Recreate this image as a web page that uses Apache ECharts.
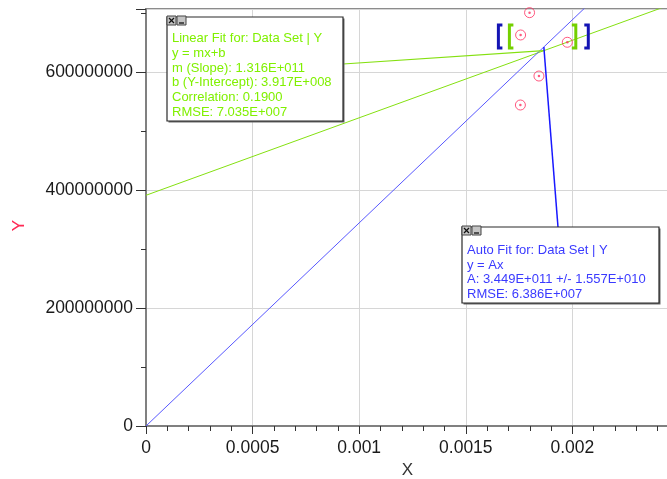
<!DOCTYPE html>
<html>
<head>
<meta charset="utf-8">
<script src="https://cdn.jsdelivr.net/npm/echarts@6/dist/echarts.min.js"></script>
<style>
  html, body { margin: 0; padding: 0; background: #ffffff; }
  #chart { width: 667px; height: 479px; }
</style>
</head>
<body>
<div id="chart"></div>
<script>
// Measured data set (X, Y)
const xValues = [0.001799, 0.001757, 0.001976, 0.001843, 0.001756];
const yValues = [701.8e6, 663.9e6, 651.5e6, 594.2e6, 545.0e6];

// Axis tick labels
const xTickLabels = ['0', '0.0005', '0.001', '0.0015', '0.002'];
const yTickLabels = ['0', '200000000', '400000000', '600000000'];
const xStep = 0.0005;
const yStep = 200000000;

// Fit results shown in the annotation boxes
const linearSlope = 1.316e11;
const linearIntercept = 3.917e8;
const linearCorrelation = '0.1900';
const linearRmse = '7.035E+007';
const autoA = 3.449e11;
const autoAErr = '1.557E+010';
const autoRmse = '6.386E+007';

const xMax = 0.002453;
const yMax = 708e6;

const FONT = '"Liberation Sans", Arial, Helvetica, sans-serif';
const GREEN = '#80f000';
const GREEN_LINE = '#84e010';
const BLUE_TEXT = '#3a3aff';
const BLUE_LINE = '#5858ff';
const BLUE_CALLOUT = '#1818ff';
const RED = '#ff3060';

const points = xValues.map((x, i) => [x, yValues[i]]);
const xLo = Math.min(...xValues);
const xHi = Math.max(...xValues);
const xMid = (xLo + xHi) / 2;

const fmt = (v) => v.toExponential(3).toUpperCase().replace(/E\+(\d+)$/, (m, d) => 'E+' + d.padStart(3, '0'));

const linearLines = [
  'Linear Fit for: Data Set | Y',
  'y = mx+b',
  'm (Slope): ' + fmt(linearSlope),
  'b (Y-Intercept): ' + fmt(linearIntercept),
  'Correlation: ' + linearCorrelation,
  'RMSE: ' + linearRmse
];
const autoLines = [
  'Auto Fit for: Data Set | Y',
  'y = Ax',
  'A: ' + fmt(autoA) + ' +/- ' + autoAErr,
  'RMSE: ' + autoRmse
];

// Box geometry (pixels)
const linBox = { x: 167, y: 17, w: 176, h: 104 };
const autoBox = { x: 462, y: 227, w: 197, h: 76 };

function fitBox(b, lines, color, textTop) {
  const Z = 100;
  const children = [
    { type: 'rect', z: Z, shape: { x: 1.5, y: 1.5, width: b.w, height: b.h }, style: { fill: '#6a6a6a' } },
    { type: 'rect', z: Z + 1, shape: { x: 0, y: 0, width: b.w, height: b.h }, style: { fill: '#ffffff', stroke: '#2a2a2a', lineWidth: 1.2 } },
    { type: 'text', z: Z + 2, x: 5, y: textTop, style: { text: lines.join('\n'), fill: color, font: '13px ' + FONT, lineHeight: 14.7, verticalAlign: 'top' } },
    // close button
    { type: 'rect', z: Z + 2, shape: { x: 0, y: -1, width: 9, height: 9 }, style: { fill: '#c4c4c4', stroke: '#444', lineWidth: 1 } },
    { type: 'line', z: Z + 3, shape: { x1: 2, y1: 1, x2: 7, y2: 6 }, style: { stroke: '#111', lineWidth: 1.3 } },
    { type: 'line', z: Z + 3, shape: { x1: 7, y1: 1, x2: 2, y2: 6 }, style: { stroke: '#111', lineWidth: 1.3 } },
    // minimize button
    { type: 'rect', z: Z + 2, shape: { x: 10, y: -1, width: 9, height: 9 }, style: { fill: '#c4c4c4', stroke: '#444', lineWidth: 1 } },
    { type: 'line', z: Z + 3, shape: { x1: 12, y1: 6, x2: 17, y2: 6 }, style: { stroke: '#111', lineWidth: 1.3 } }
  ];
  return { type: 'group', x: b.x, y: b.y, z: Z, children };
}

function calloutSeries(yVal, anchor, color, width) {
  return {
    type: 'custom',
    coordinateSystem: 'cartesian2d',
    data: [[xMid, yVal]],
    clip: false,
    silent: true,
    z: 5,
    renderItem: (params, api) => {
      const p = api.coord([api.value(0), api.value(1)]);
      return {
        type: 'line',
        shape: { x1: anchor[0], y1: anchor[1], x2: p[0], y2: p[1] },
        style: { stroke: color, lineWidth: width }
      };
    }
  };
}

// Selection brackets around the fitted range
const bracketSeries = {
  type: 'custom',
  coordinateSystem: 'cartesian2d',
  data: [[xLo, xHi]],
  clip: false,
  silent: true,
  z: 6,
  renderItem: (params, api) => {
    const a = api.coord([api.value(0), 0])[0];
    const c = api.coord([api.value(1), 0])[0];
    const top = 25, bot = 48, arm = 4;
    const open = (x, color) => ({ type: 'polyline', shape: { points: [[x + arm, top], [x, top], [x, bot], [x + arm, bot]] }, style: { stroke: color, lineWidth: 3, fill: null } });
    const close = (x, color) => ({ type: 'polyline', shape: { points: [[x - arm, top], [x, top], [x, bot], [x - arm, bot]] }, style: { stroke: color, lineWidth: 3, fill: null } });
    return {
      type: 'group',
      children: [
        open(a - 22, '#1414b4'),
        open(a - 11, '#74d000'),
        close(c + 8.5, '#74d000'),
        close(c + 21, '#1414b4')
      ]
    };
  }
};

const chart = echarts.init(document.getElementById('chart'), null, { renderer: 'canvas' });

chart.setOption({
  animation: false,
  backgroundColor: '#ffffff',
  grid: {
    left: 146, top: 9, right: -2, bottom: 53,
    containLabel: false,
    outerBoundsMode: 'none',
    show: true,
    borderColor: '#8c8c8c',
    borderWidth: 2,
    backgroundColor: 'transparent'
  },
  xAxis: {
    type: 'value',
    min: 0, max: xMax, interval: xStep,
    name: 'X', nameLocation: 'middle', nameGap: 32,
    nameTextStyle: { color: '#333', fontFamily: FONT, fontSize: 17 },
    axisLine: { show: true, onZero: false, lineStyle: { color: '#808080', width: 2 } },
    axisTick: { show: true, length: 8, lineStyle: { color: '#333', width: 1 } },
    minorTick: { show: true, splitNumber: 5, length: 5, lineStyle: { color: '#333', width: 1 } },
    splitLine: { show: true, lineStyle: { color: '#d6d6d6', width: 1 } },
    axisLabel: {
      margin: 13, color: '#1a1a1a', fontFamily: FONT, fontSize: 17.5,
      showMaxLabel: false,
      formatter: (v) => { const i = Math.round(v / xStep); return xTickLabels[i] !== undefined ? xTickLabels[i] : ''; }
    }
  },
  yAxis: {
    type: 'value',
    min: 0, max: yMax, interval: yStep,
    name: 'Y', nameLocation: 'middle', nameGap: 118,
    nameTextStyle: { color: '#ff2a55', fontFamily: FONT, fontSize: 17, padding: [0, 16, 0, 0] },
    axisLine: { show: true, onZero: false, lineStyle: { color: '#808080', width: 2 } },
    axisTick: { show: true, length: 10, lineStyle: { color: '#333', width: 1 } },
    minorTick: { show: true, splitNumber: 2, length: 5, lineStyle: { color: '#333', width: 1 } },
    splitLine: { show: true, lineStyle: { color: '#d6d6d6', width: 1 } },
    axisLabel: {
      margin: 13, color: '#1a1a1a', fontFamily: FONT, fontSize: 17.5,
      showMaxLabel: false,
      formatter: (v) => { const i = Math.round(v / yStep); return yTickLabels[i] !== undefined ? yTickLabels[i] : ''; }
    }
  },
  graphic: [
    fitBox(linBox, linearLines, GREEN, 14.4),
    fitBox(autoBox, autoLines, BLUE_TEXT, 16)
  ],
  series: [
    {
      name: 'Linear Fit',
      type: 'line',
      data: [[0, linearIntercept], [xMax, linearSlope * xMax + linearIntercept]],
      showSymbol: false, symbol: 'none', clip: true, silent: true,
      lineStyle: { color: GREEN_LINE, width: 1 },
      z: 3
    },
    {
      name: 'Auto Fit',
      type: 'line',
      data: [[0, 0], [xMax, autoA * xMax]],
      showSymbol: false, symbol: 'none', clip: true, silent: true,
      lineStyle: { color: BLUE_LINE, width: 1 },
      z: 3
    },
    calloutSeries(linearSlope * xMid + linearIntercept, [linBox.x + linBox.w, 64], GREEN_LINE, 1.2),
    calloutSeries(autoA * xMid, [558, autoBox.y], BLUE_CALLOUT, 1.5),
    bracketSeries,
    {
      name: 'Data Set',
      type: 'scatter',
      data: points,
      symbol: 'circle', symbolSize: 10,
      itemStyle: { color: 'rgba(255,255,255,0)', borderColor: RED, borderWidth: 1 },
      silent: true, z: 8
    },
    {
      name: 'Data Set centre',
      type: 'scatter',
      data: points,
      symbol: 'circle', symbolSize: 2.5,
      itemStyle: { color: RED },
      silent: true, z: 9
    }
  ]
});
</script>
</body>
</html>
